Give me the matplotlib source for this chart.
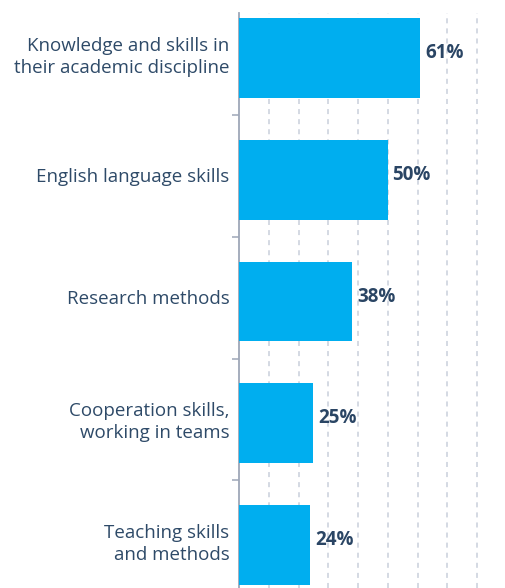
import matplotlib
matplotlib.use("Agg")
import matplotlib.pyplot as plt
import numpy as np

# ── Data ──────────────────────────────────────────────────────────────────────
categories = [
    "Knowledge and skills in\ntheir academic discipline",
    "English language skills",
    "Research methods",
    "Cooperation skills,\nworking in teams",
    "Teaching skills\nand methods",
]
values = [61, 50, 38, 25, 24]
grid_ticks = [10, 20, 30, 40, 50, 60, 70, 80]

COLOR_BAR = "#00AEEF"
COLOR_TEXT = "#2E4A68"
COLOR_VAL = "#2A4564"
COLOR_GRID = "#C9CFDB"
COLOR_SPINE = "#9EA7B8"

plt.rcParams["font.family"] = ["Open Sans", "DejaVu Sans"]

fig = plt.figure(figsize=(5.05, 5.88), dpi=100)
ax = fig.add_axes([239 / 505, 0.0, 1 - 239 / 505, (588 - 13) / 588])

ys = np.arange(len(categories))
bars = ax.barh(ys, values, height=0.655, color=COLOR_BAR, zorder=3)

for bar, v in zip(bars, values):
    ax.text(bar.get_width() + 1.6, bar.get_y() + bar.get_height() / 2 - 0.04,
            f"{v}%", ha="left", va="center", fontsize=13.5, fontweight="bold",
            color=COLOR_VAL, zorder=4)

ax.set_xlim(0, 89.4)
ax.set_ylim(4.353, -0.37)

# dashed vertical gridlines
ax.set_xticks(grid_ticks)
ax.tick_params(axis="x", length=0, labelbottom=False)
ax.grid(axis="x", color=COLOR_GRID, linestyle=(0, (3.3, 3.3)), linewidth=1.1, zorder=0)
ax.set_axisbelow(True)

# category labels (sit slightly above bar centre), ticks between groups
ax.set_yticks(ys - 0.04)
ax.set_yticklabels(categories, fontsize=13.5, color=COLOR_TEXT, ha="right",
                   linespacing=1.25)
ax.tick_params(axis="y", which="major", length=0, pad=7)
ax.set_yticks(ys[:-1] + 0.47, minor=True)
ax.tick_params(axis="y", which="minor", length=5, width=1.1, color=COLOR_SPINE)

for side in ["top", "right", "bottom"]:
    ax.spines[side].set_visible(False)
ax.spines["left"].set_color(COLOR_SPINE)
ax.spines["left"].set_linewidth(1.3)

fig.savefig("out.png", dpi=100)
